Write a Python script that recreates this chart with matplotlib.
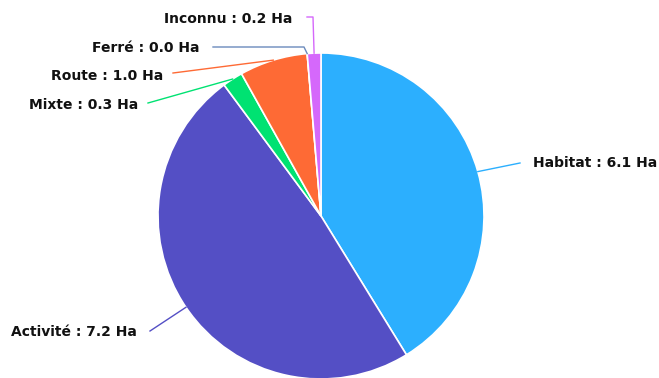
import numpy as np
import matplotlib.pyplot as plt

W, H = 659, 378

labels = ['Habitat', 'Activité', 'Mixte', 'Route', 'Ferré', 'Inconnu']
values = [6.1, 7.2, 0.3, 1.0, 0.0, 0.2]
colors = ['#2caffe', '#544fc5', '#00e272', '#fe6a35', '#6b8abc', '#d568fb']

# label layout in pixels from top-left: text anchor, elbow of the connector, alignment
label_pos = [(533, 163), (137, 332), (138, 105), (163, 76), (200, 48), (292, 19)]
elbows = [[(520, 163)], [(150, 331)], [(148, 103)], [(173, 73)],
          [(213, 47), (304, 47)], [(307, 17), (313, 17)]]
align = ['left', 'right', 'right', 'right', 'right', 'right']

cx, cy, r = 321, 216, 163

fig = plt.figure(figsize=(W / 100, H / 100), dpi=100)
ax = fig.add_axes([0, 0, 1, 1])
wedges, _ = ax.pie(values, colors=colors, startangle=90, counterclock=False,
                   center=(cx, H - cy), radius=r,
                   wedgeprops=dict(edgecolor='white', linewidth=1.2))
ax.set_xlim(0, W)
ax.set_ylim(0, H)
ax.set_aspect('equal')
ax.axis('off')

for w, lab, v, c, (tx, ty), elb, ha in zip(wedges, labels, values, colors,
                                             label_pos, elbows, align):
    ang = np.deg2rad((w.theta1 + w.theta2) / 2)
    ex = cx + r * np.cos(ang)
    ey = H - cy + r * np.sin(ang)
    pts = [(ex, ey)] + [(x, H - y) for x, y in reversed(elb)]
    xs, ys = zip(*pts)
    ax.plot(xs, ys, color=c, lw=1)
    ax.text(tx, H - ty, f'{lab} : {v:.1f} Ha', ha=ha, va='center',
            fontsize=10, fontweight='bold', color='#111111')

fig.savefig('out.png', dpi=100)
